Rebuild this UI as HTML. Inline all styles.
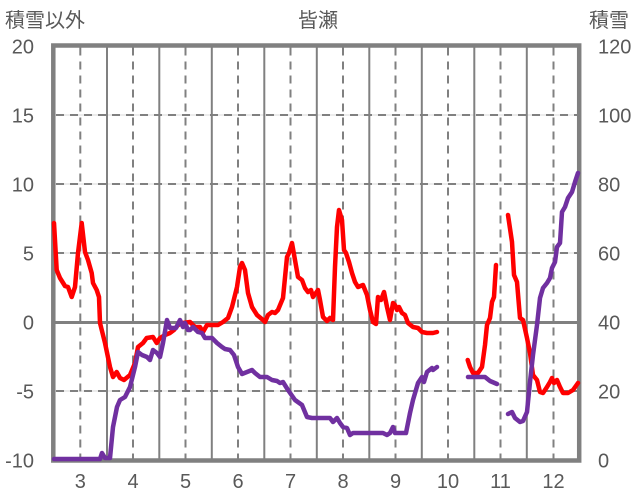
<!DOCTYPE html>
<html><head><meta charset="utf-8"><style>
html,body{margin:0;padding:0;background:#fff;}
svg{display:block;}
text{font-family:"Liberation Sans","Noto Sans CJK JP",sans-serif;fill:#595959;}
</style></head><body>
<svg width="636" height="501" viewBox="0 0 636 501" xmlns="http://www.w3.org/2000/svg">
<rect x="0" y="0" width="636" height="501" fill="#fff"/>
<!-- titles -->
<text x="5" y="27" font-size="20">積雪以外</text>
<text x="318" y="27" font-size="20" text-anchor="middle">皆瀬</text>
<text x="589" y="27" font-size="20">積雪</text>
<!-- horizontal grid -->
<g>
<line x1="55" x2="578" y1="115" y2="115" stroke="#d9d9d9" stroke-width="1"/>
<line x1="55" x2="578" y1="184" y2="184" stroke="#d9d9d9" stroke-width="1"/>
<line x1="55" x2="578" y1="253" y2="253" stroke="#d9d9d9" stroke-width="1"/>
<line x1="55" x2="578" y1="391" y2="391" stroke="#d9d9d9" stroke-width="1"/>
<g stroke="#808080" stroke-width="2" stroke-dasharray="8,6">
<line x1="56" x2="578" y1="115" y2="115"/>
<line x1="56" x2="578" y1="184" y2="184"/>
<line x1="56" x2="578" y1="253" y2="253"/>
<line x1="56" x2="578" y1="391" y2="391"/>
</g>
</g>
<!-- vertical solid -->
<g stroke="#808080" stroke-width="2">
<line x1="107" x2="107" y1="46" y2="460"/>
<line x1="159.3" x2="159.3" y1="46" y2="460"/>
<line x1="211.8" x2="211.8" y1="46" y2="460"/>
<line x1="264.3" x2="264.3" y1="46" y2="460"/>
<line x1="316.8" x2="316.8" y1="46" y2="460"/>
<line x1="369.3" x2="369.3" y1="46" y2="460"/>
<line x1="421.8" x2="421.8" y1="46" y2="460"/>
<line x1="474.3" x2="474.3" y1="46" y2="460"/>
<line x1="526.8" x2="526.8" y1="46" y2="460"/>
</g>
<!-- vertical dashed -->
<g stroke="#808080" stroke-width="2" stroke-dasharray="8,6">
<line x1="80.3" x2="80.3" y1="47.5" y2="460"/>
<line x1="133" x2="133" y1="47.5" y2="460"/>
<line x1="185.5" x2="185.5" y1="47.5" y2="460"/>
<line x1="238" x2="238" y1="47.5" y2="460"/>
<line x1="290.5" x2="290.5" y1="47.5" y2="460"/>
<line x1="343" x2="343" y1="47.5" y2="460"/>
<line x1="395.5" x2="395.5" y1="47.5" y2="460"/>
<line x1="448" x2="448" y1="47.5" y2="460"/>
<line x1="500.5" x2="500.5" y1="47.5" y2="460"/>
<line x1="553.5" x2="553.5" y1="47.5" y2="460"/>
</g>
<!-- zero line -->
<line x1="55" x2="578" y1="322.5" y2="322.5" stroke="#808080" stroke-width="3"/>
<!-- frame -->
<rect x="53.3" y="45.5" width="525.9" height="415" fill="none" stroke="#808080" stroke-width="4.5"/>
<!-- left ticks -->
<g font-size="20" text-anchor="end">
<text x="34" y="53.5">20</text>
<text x="34" y="122.5">15</text>
<text x="34" y="191.5">10</text>
<text x="34" y="260.5">5</text>
<text x="34" y="329.5">0</text>
<text x="34" y="398.5">-5</text>
<text x="34" y="467.5">-10</text>
</g>
<!-- right ticks -->
<g font-size="20">
<text x="598" y="53.5">120</text>
<text x="598" y="122.5">100</text>
<text x="598" y="191.5">80</text>
<text x="598" y="260.5">60</text>
<text x="598" y="329.5">40</text>
<text x="598" y="398.5">20</text>
<text x="598" y="467.5">0</text>
</g>
<!-- x ticks -->
<g font-size="20" text-anchor="middle">
<text x="80.3" y="488">3</text>
<text x="133" y="488">4</text>
<text x="185.5" y="488">5</text>
<text x="238" y="488">6</text>
<text x="290.5" y="488">7</text>
<text x="343" y="488">8</text>
<text x="395.5" y="488">9</text>
<text x="448" y="488">10</text>
<text x="500.5" y="488">11</text>
<text x="553.5" y="488">12</text>
</g>
<!-- red series -->
<g fill="none" stroke="#ff0000" stroke-width="4.5" stroke-linejoin="round" stroke-linecap="round">
<polyline points="54,223 56.7,270 60,278 65,286 68,287 71.7,297 75,287 78,253 81.7,223 85,252 88,260 91.7,273 93,283 96.7,290 99,297 100,323 105,343 110,367 113,377 116.7,372 120,378 124,380 130,375 135,363 138,347 143,343 146.7,338 153,337 156.7,343 160,338 165,335 170,333 174,330 178,325 183,323 190,322 195,327 200,327 203,332 207,325 212,325 218,325 223,322 228,318 232,307 237,287 240,267 242,263 245,270 248,293 252,307 257,315 263,320 265,322 268,315 272,312 275,313 278,310 283,298 287,257 289,253 292,243 295,260 298,277 302,280 305,288 308,292 311,290 313,297 318,290 320,300 323,317 327,321 330,318 333,320 335,267 337,227 339,210 342,220 344,250 346,253 349,262 352,273 355,282 358,287 363,285 367,295 370,310 373,322 376,324 378,297 381,300 384,292 387,307 390,320 393,303 395,305 397,310 399,307 402,313 405,315 408,323 413,327 418,328 422,332 427,333 433,333 437,332"/>
<polyline points="467.7,360 470,367 473,373 478,373 482,367 485,345 487,325 490,318 492,302 494,297 496,265"/>
<polyline points="508,215 512,242 514,275 517,282 520,318 523,320 527,338 530,353 533,375 537,380 540,392 543,393 547,387 550,382 552,378 554,383 557,380 560,387 563,393 568,393 573,390 578,383"/>
</g>
<!-- purple series -->
<g fill="none" stroke="#7030a0" stroke-width="4.5" stroke-linejoin="round" stroke-linecap="round">
<polyline points="54,459 100,459 102,453 105,458 110,458 113,427 117,407 120,400 125,397 130,387 135,367 138,352 142,355 147,357 150,360 153,350 157,353 160,357 163,343 167,320 170,328 176,328 180,320 183,327 185,323 188,330 190,330 193,327 198,332 202,333 205,338 212,338 217,343 222,347 225,349 230,350 234,355 238,367 242,374 247,372 252,370 255,373 260,377 267,377 272,380 277,381 280,383 283,382 288,390 295,400 302,405 307,417 312,418 325,418 330,418 333,422 337,418 340,423 343,427 347,428 350,435 353,433 383,433 387,435 390,433 393,427 395,433 406,433 410,413 413,400 418,383 422,377 424,382 427,372 432,368 433,370 437,367"/>
<polyline points="468,377 485,377 490,381 497,384"/>
<polyline points="508,414 512,412 515,418 520,422 523,421 527,412 530,382 533,355 537,325 540,298 543,288 547,283 550,278 552,268 555,262 557,247 560,243 562,212 565,207 568,198 572,192 575,182 578,173"/>
</g>
</svg>
</body></html>
